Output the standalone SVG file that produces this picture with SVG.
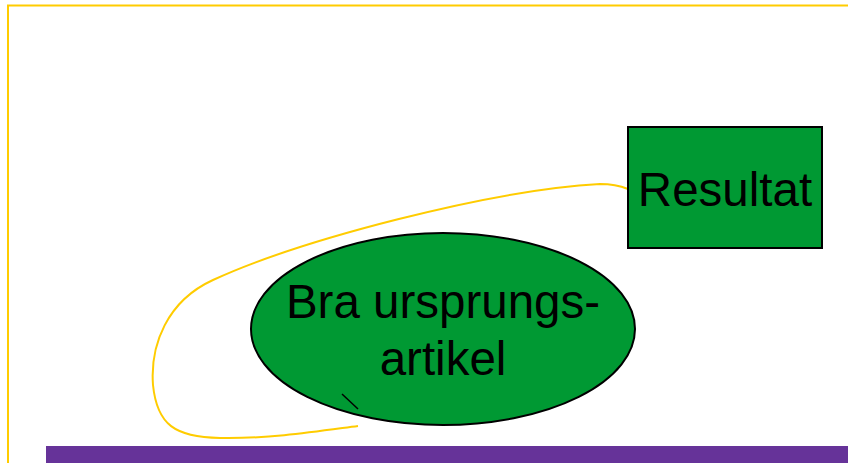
<svg xmlns="http://www.w3.org/2000/svg" width="848" height="463" viewBox="0 0 848 463">
<style>
.node{fill:#009933;stroke:#000;stroke-width:2}
.lbl{font-family:"Liberation Sans",Arial,sans-serif;font-size:47.5px;fill:#000;text-anchor:middle}
.frame{stroke:#FFCC00;stroke-width:2;fill:none}
.conn{stroke:#FFCC00;stroke-width:2;fill:none}
</style>
<rect width="848" height="463" fill="#fff"/>
<g id="frame">
<path class="frame" d="M8 463 V5.5 H848"/>
<rect x="46" y="446" width="802" height="17" fill="#663399"/>
</g>
<g id="connectors">
<path class="conn" d="M628 189 C618 185 610 184 600 184 C490 190 300 240 213 280 C167 301 150 345 153 385 C157 425 175 437 220 438 C270 439 320 431 358 426"/>
</g>
<g id="node-resultat">
<rect class="node" x="628" y="127" width="194" height="121"/>
<text class="lbl" x="725" y="206">Resultat</text>
</g>
<g id="node-artikel">
<ellipse class="node" cx="443" cy="329" rx="192" ry="96"/>
<text class="lbl" x="443" y="318">Bra ursprungs-</text>
<text class="lbl" x="443" y="375">artikel</text>
<line x1="342" y1="394" x2="358" y2="409" stroke="#000" stroke-width="1.5"/>
</g>
</svg>
